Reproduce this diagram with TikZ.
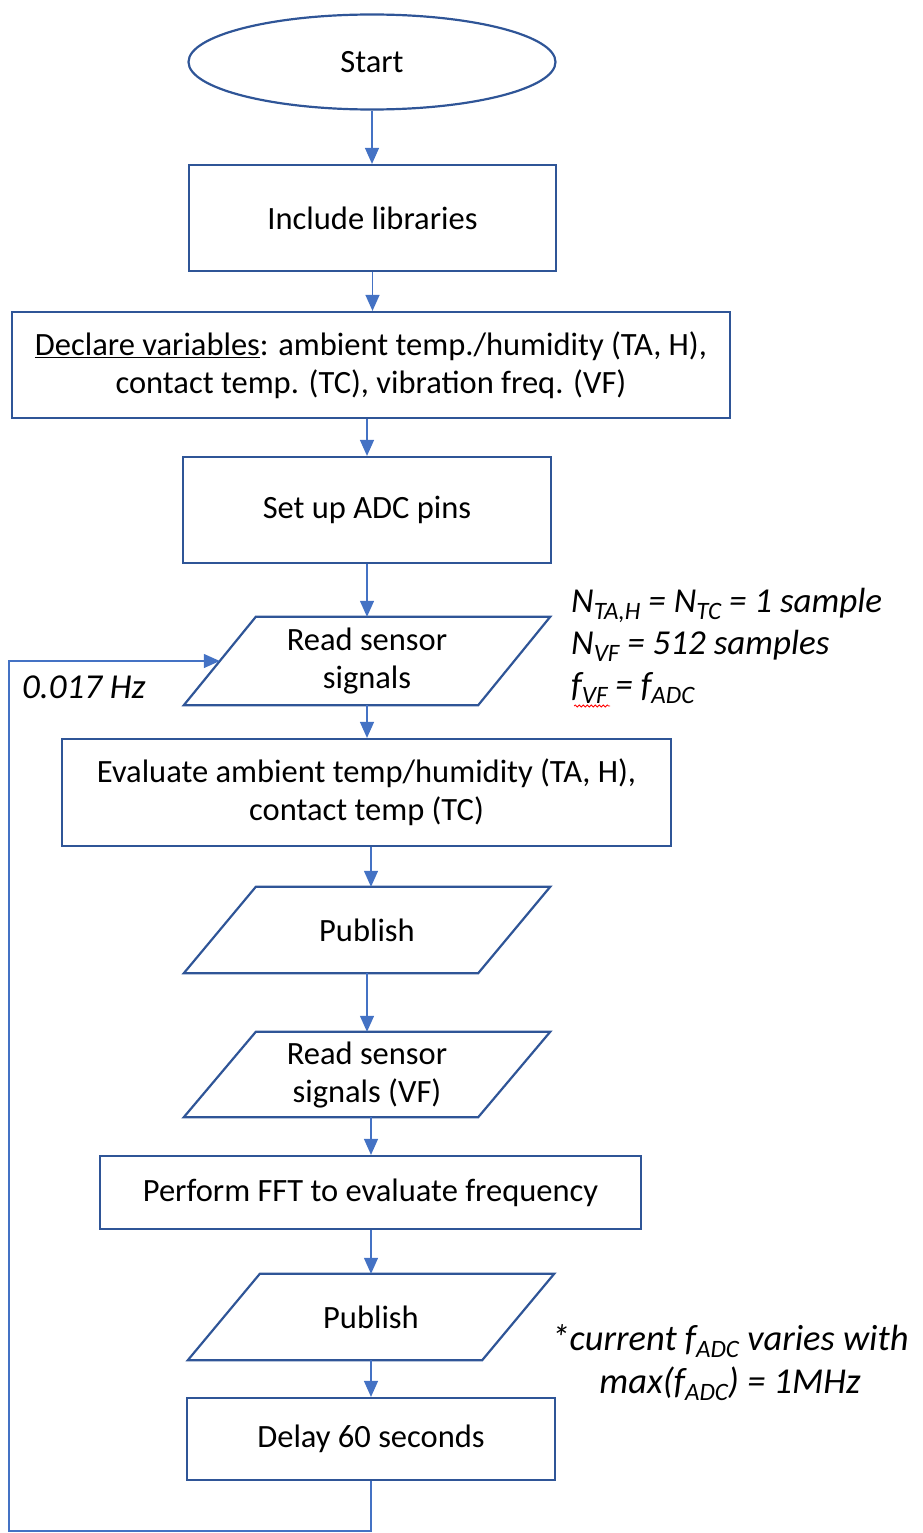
\documentclass[tikz,border=0pt]{standalone}
\usepackage{fontspec}
\setmainfont{Carlito}
\usetikzlibrary{calc,arrows.meta,shapes.geometric,decorations.pathmorphing}
\definecolor{boxblue}{HTML}{2F5597}
\definecolor{arrblue}{HTML}{4472C4}
\newcommand\sbs[1]{\raisebox{-7pt}{\fontsize{25}{25}\selectfont #1}}
\begin{document}
\begin{tikzpicture}[x=1pt,y=-1pt,
  every node/.style={font=\fontsize{32.5}{38}\selectfont, text=black},
  box/.style={draw=boxblue, line width=2.2pt, align=center, inner sep=0pt},
  pbox/.style={align=center, inner sep=0pt, minimum width=294pt, minimum height=86pt},
  pgram/.style={draw=boxblue, line width=2.2pt, line join=miter},
  arr/.style={draw=arrblue, line width=1.3pt, -{Triangle[length=16pt,width=14pt]}},
  note/.style={font=\fontsize{35}{41}\selectfont\itshape, inner sep=0pt},
  note2/.style={font=\fontsize{36.5}{43}\selectfont\itshape, inner sep=0pt, align=center}
]
\useasboundingbox (0,0) rectangle (923,1533);

\node[box, ellipse, minimum width=367pt, minimum height=95pt] (start) at (372,62) {Start};
\node[box, minimum width=367pt, minimum height=106pt] (inc) at (372.5,218) {Include libraries};
\node[box, minimum width=718pt, minimum height=106pt] (decl) at (371,365) {\underline{Declare variables}: ambient temp./humidity (TA, H),\\contact temp. (TC), vibration freq. (VF)};
\node[box, minimum width=368pt, minimum height=106pt] (adc) at (367,510) {Set up ADC pins};
\node[pbox, minimum height=88pt] (read) at (367,661) {Read sensor\\signals};
\node[box, minimum width=609pt, minimum height=107pt] (eval) at (366.5,792.5) {Evaluate ambient temp/humidity (TA, H),\\contact temp (TC)};
\node[pbox] (pub1) at (367,930) {Publish};
\node[pbox, minimum height=85pt] (readvf) at (367,1074.5) {Read sensor\\signals (VF)};
\node[box, minimum width=541pt, minimum height=73pt] (fft) at (370.5,1192.5) {Perform FFT to evaluate frequency};
\node[pbox] (pub2) at (371,1317) {Publish};
\node[box, minimum width=368pt, minimum height=82pt] (delay) at (371,1439) {Delay 60 seconds};

\foreach \n in {read,pub1,readvf,pub2}
  \draw[pgram] ($(\n.north west)+(36,0)$) -- ($(\n.north east)+(36,0)$) -- ($(\n.south east)+(-36,0)$) -- ($(\n.south west)+(-36,0)$) -- cycle;

\draw[arr] (start.south) -- (start.south |- inc.north);
\draw[arr] (inc.south) -- (inc.south |- decl.north);
\draw[arr] (adc.north |- decl.south) -- (adc.north);
\draw[arr] (adc.south) -- (adc.south |- read.north);
\draw[arr] (read.south) -- (read.south |- eval.north);
\draw[arr] (pub2.north |- eval.south) -- (pub2.north |- pub1.north);
\draw[arr] (pub1.south) -- (pub1.south |- readvf.north);
\draw[arr] (pub2.north |- readvf.south) -- (pub2.north |- fft.north);
\draw[arr] (pub2.north |- fft.south) -- (pub2.north);
\draw[arr] (pub2.south) -- (pub2.south |- delay.north);

\coordinate (bl) at (9,1531);
\draw[arr] (delay.south) |- (bl) |- (read.west);

\node[note, anchor=base west] (n1) at (571,612) {N\sbs{TA,H} = N\sbs{TC} = 1 sample};
\node[note, anchor=base west] (n2) at (571,654) {N\sbs{VF} = 512 samples};
\node[note, anchor=base west] (n3) at (571,696) {f\sbs{VF} = f\sbs{ADC}};
\draw[red, line width=0.8pt, decorate, decoration={snake, amplitude=1pt, segment length=4pt}] (574,706) -- (610,706);
\node[note2, anchor=base] (n4) at (730,1393) {*current f\sbs{ADC} varies with\\max(f\sbs{ADC}) = 1MHz};
\node[note, anchor=base west] (hz) at (22,698) {0.017 Hz};
\end{tikzpicture}
\end{document}
